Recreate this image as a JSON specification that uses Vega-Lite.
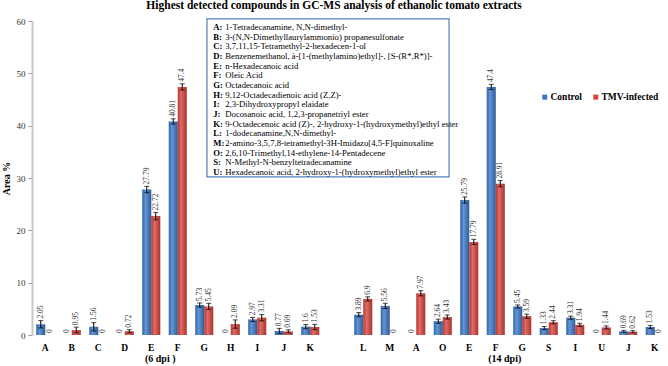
{
  "$schema": "https://vega.github.io/schema/vega-lite/v6.json",
  "width": 636,
  "height": 314,
  "autosize": {"type": "none"},
  "padding": {"left": 32, "top": 21, "right": 0, "bottom": 31},
  "background": "white",
  "title": {
    "text": "Highest detected compounds in GC-MS analysis of ethanolic tomato extracts",
    "font": "Liberation Serif",
    "fontSize": 11.5,
    "fontWeight": "bold",
    "color": "#000000",
    "anchor": "middle",
    "frame": "group",
    "offset": 6,
    "dx": -16
  },
  "config": {"view": {"stroke": null}, "font": "Liberation Serif"},
  "datasets": {
    "areas": [
      {"dpi": "6", "code": "A", "series": "Control", "value": 2.05, "err": 0.7},
      {"dpi": "6", "code": "A", "series": "TMV-infected", "value": 0, "err": 0},
      {"dpi": "6", "code": "B", "series": "Control", "value": 0, "err": 0},
      {"dpi": "6", "code": "B", "series": "TMV-infected", "value": 0.95, "err": 0.55},
      {"dpi": "6", "code": "C", "series": "Control", "value": 1.56, "err": 0.8},
      {"dpi": "6", "code": "C", "series": "TMV-infected", "value": 0, "err": 0},
      {"dpi": "6", "code": "D", "series": "Control", "value": 0, "err": 0},
      {"dpi": "6", "code": "D", "series": "TMV-infected", "value": 0.72, "err": 0.3},
      {"dpi": "6", "code": "E", "series": "Control", "value": 27.79, "err": 0.6},
      {"dpi": "6", "code": "E", "series": "TMV-infected", "value": 22.72, "err": 0.7},
      {"dpi": "6", "code": "F", "series": "Control", "value": 40.81, "err": 0.5},
      {"dpi": "6", "code": "F", "series": "TMV-infected", "value": 47.4, "err": 0.6},
      {"dpi": "6", "code": "G", "series": "Control", "value": 5.73, "err": 0.4},
      {"dpi": "6", "code": "G", "series": "TMV-infected", "value": 5.45, "err": 0.6},
      {"dpi": "6", "code": "H", "series": "Control", "value": 0, "err": 0},
      {"dpi": "6", "code": "H", "series": "TMV-infected", "value": 2.09, "err": 0.8},
      {"dpi": "6", "code": "I", "series": "Control", "value": 2.97, "err": 0.4},
      {"dpi": "6", "code": "I", "series": "TMV-infected", "value": 3.31, "err": 0.6},
      {"dpi": "6", "code": "J", "series": "Control", "value": 0.77, "err": 0.5},
      {"dpi": "6", "code": "J", "series": "TMV-infected", "value": 0.69, "err": 0.3},
      {"dpi": "6", "code": "K", "series": "Control", "value": 1.6, "err": 0.4},
      {"dpi": "6", "code": "K", "series": "TMV-infected", "value": 1.53, "err": 0.5},
      {"dpi": "14", "code": "L", "series": "Control", "value": 3.89, "err": 0.4},
      {"dpi": "14", "code": "L", "series": "TMV-infected", "value": 6.9, "err": 0.4},
      {"dpi": "14", "code": "M", "series": "Control", "value": 5.56, "err": 0.5},
      {"dpi": "14", "code": "M", "series": "TMV-infected", "value": 0, "err": 0},
      {"dpi": "14", "code": "A", "series": "Control", "value": 0, "err": 0},
      {"dpi": "14", "code": "A", "series": "TMV-infected", "value": 7.97, "err": 0.5},
      {"dpi": "14", "code": "O", "series": "Control", "value": 2.64, "err": 0.4},
      {"dpi": "14", "code": "O", "series": "TMV-infected", "value": 3.43, "err": 0.4},
      {"dpi": "14", "code": "E", "series": "Control", "value": 25.79, "err": 0.6},
      {"dpi": "14", "code": "E", "series": "TMV-infected", "value": 17.79, "err": 0.5},
      {"dpi": "14", "code": "F", "series": "Control", "value": 47.4, "err": 0.5},
      {"dpi": "14", "code": "F", "series": "TMV-infected", "value": 28.91, "err": 0.6},
      {"dpi": "14", "code": "G", "series": "Control", "value": 5.45, "err": 0.3},
      {"dpi": "14", "code": "G", "series": "TMV-infected", "value": 3.59, "err": 0.4},
      {"dpi": "14", "code": "S", "series": "Control", "value": 1.33, "err": 0.3},
      {"dpi": "14", "code": "S", "series": "TMV-infected", "value": 2.44, "err": 0.3},
      {"dpi": "14", "code": "I", "series": "Control", "value": 3.31, "err": 0.3},
      {"dpi": "14", "code": "I", "series": "TMV-infected", "value": 1.94, "err": 0.3},
      {"dpi": "14", "code": "U", "series": "Control", "value": 0, "err": 0},
      {"dpi": "14", "code": "U", "series": "TMV-infected", "value": 1.44, "err": 0.3},
      {"dpi": "14", "code": "J", "series": "Control", "value": 0.69, "err": 0.2},
      {"dpi": "14", "code": "J", "series": "TMV-infected", "value": 0.62, "err": 0.2},
      {"dpi": "14", "code": "K", "series": "Control", "value": 1.53, "err": 0.3},
      {"dpi": "14", "code": "K", "series": "TMV-infected", "value": 0, "err": 0}
    ],
    "compounds": [
      {"code": "A", "name": "1-Tetradecanamine, N,N-dimethyl-"},
      {"code": "B", "name": "3-(N,N-Dimethyllaurylammonio) propanesulfonate"},
      {"code": "C", "name": "3,7,11,15-Tetramethyl-2-hexadecen-1-ol"},
      {"code": "D", "name": "Benzenemethanol, à-[1-(methylamino)ethyl]-, [S-(R*,R*)]-"},
      {"code": "E", "name": "n-Hexadecanoic acid"},
      {"code": "F", "name": "Oleic Acid"},
      {"code": "G", "name": "Octadecanoic acid"},
      {"code": "H", "name": "9,12-Octadecadienoic acid (Z,Z)-"},
      {"code": "I", "name": "2,3-Dihydroxypropyl elaidate"},
      {"code": "J", "name": "Docosanoic acid, 1,2,3-propanetriyl ester"},
      {"code": "K", "name": "9-Octadecenoic acid (Z)-, 2-hydroxy-1-(hydroxymethyl)ethyl ester"},
      {"code": "L", "name": "1-dodecanamine,N,N-dimethyl-"},
      {"code": "M", "name": "2-amino-3,5,7,8-tetramethyl-3H-Imidazo[4,5-F]quinoxaline"},
      {"code": "O", "name": "2,6,10-Trimethyl,14-ethylene-14-Pentadecene"},
      {"code": "S", "name": "N-Methyl-N-benzyltetradecanamine"},
      {"code": "U", "name": "Hexadecanoic acid, 2-hydroxy-1-(hydroxymethyl)ethyl ester"}
    ],
    "groups": [
      {"label": "(6 dpi )", "key": "6-E"},
      {"label": "(14 dpi)", "key": "14-F"}
    ]
  },
  "layer": [
    {
      "layer": [
        {
          "data": {"name": "areas"},
          "transform": [{"calculate": "datum.dpi + '-' + datum.code", "as": "key"}],
          "mark": {"type": "bar"},
          "encoding": {
            "x": {
              "field": "key",
              "type": "nominal",
              "scale": {
                "domain": ["6-A", "6-B", "6-C", "6-D", "6-E", "6-F", "6-G", "6-H", "6-I", "6-J", "6-K", "gap",
                           "14-L", "14-M", "14-A", "14-O", "14-E", "14-F", "14-G", "14-S", "14-I", "14-U", "14-J", "14-K"],
                "paddingInner": 0.32,
                "paddingOuter": 0.16
              },
              "axis": {
                "title": null,
                "domain": false,
                "ticks": false,
                "labelAngle": 0,
                "labelPadding": 7,
                "labelFont": "Liberation Serif",
                "labelFontSize": 9.5,
                "labelFontWeight": "bold",
                "labelColor": "#000000",
                "labelExpr": "indexof(datum.value, '-') > 0 ? split(datum.value, '-')[1] : ''"
              }
            },
            "xOffset": {"field": "series", "type": "nominal", "scale": {"domain": ["Control", "TMV-infected"], "paddingInner": 0}},
            "y": {
              "field": "value",
              "type": "quantitative",
              "scale": {"domain": [0, 60], "nice": false},
              "axis": {
                "title": "Area %",
                "titleFont": "Liberation Serif",
                "titleFontSize": 10,
                "titleFontWeight": "bold",
                "titleColor": "#000000",
                "titlePadding": 5,
                "values": [0, 10, 20, 30, 40, 50, 60],
                "grid": false,
                "domainColor": "#c8c8c8",
                "domainWidth": 2,
                "tickColor": "#9a9a9a",
                "tickSize": 4,
                "labelFont": "Liberation Serif",
                "labelFontSize": 9,
                "labelColor": "#333333",
                "labelPadding": 3
              }
            },
            "color": {
              "field": "series",
              "type": "nominal",
              "scale": {"domain": ["Control", "TMV-infected"], "range": ["#3a78c8", "#d8433c"]},
              "legend": {
                "title": null,
                "orient": "none",
                "legendX": 508,
                "legendY": 71,
                "direction": "horizontal",
                "symbolType": "square",
                "symbolSize": 25,
                "symbolStrokeWidth": 0,
                "labelFont": "Liberation Serif",
                "labelFontSize": 9.5,
                "labelFontWeight": "bold",
                "labelColor": "#000000",
                "labelOffset": 1,
                "columnPadding": 9
              }
            }
          }
        },
        {
          "data": {"name": "areas"},
          "transform": [{"calculate": "datum.dpi + '-' + datum.code", "as": "key"}],
          "mark": {
            "type": "bar",
            "color": {
              "gradient": "linear",
              "x1": 0, "x2": 1, "y1": 0, "y2": 0,
              "stops": [
                {"offset": 0, "color": "rgba(0,0,0,0.12)"},
                {"offset": 0.35, "color": "rgba(255,255,255,0.22)"},
                {"offset": 1, "color": "rgba(0,0,0,0.22)"}
              ]
            }
          },
          "encoding": {
            "x": {"field": "key", "type": "nominal"},
            "xOffset": {"field": "series", "type": "nominal"},
            "y": {"field": "value", "type": "quantitative"}
          }
        },
        {
          "data": {"name": "areas"},
          "transform": [
            {"filter": "datum.err > 0"},
            {"calculate": "datum.dpi + '-' + datum.code", "as": "key"},
            {"calculate": "datum.value - datum.err", "as": "lo"},
            {"calculate": "datum.value + datum.err", "as": "hi"}
          ],
          "mark": {"type": "rule", "color": "#000000", "strokeWidth": 1},
          "encoding": {
            "x": {"field": "key", "type": "nominal"},
            "xOffset": {"field": "series", "type": "nominal"},
            "y": {"field": "lo", "type": "quantitative"},
            "y2": {"field": "hi"}
          }
        },
        {
          "data": {"name": "areas"},
          "transform": [
            {"filter": "datum.err > 0"},
            {"calculate": "datum.dpi + '-' + datum.code", "as": "key"},
            {"calculate": "datum.value - datum.err", "as": "lo"},
            {"calculate": "datum.value + datum.err", "as": "hi"},
            {"fold": ["lo", "hi"], "as": ["end", "level"]}
          ],
          "mark": {"type": "tick", "color": "#000000", "size": 5, "thickness": 1},
          "encoding": {
            "x": {"field": "key", "type": "nominal"},
            "xOffset": {"field": "series", "type": "nominal"},
            "y": {"field": "level", "type": "quantitative"}
          }
        },
        {
          "data": {"name": "areas"},
          "transform": [
            {"calculate": "datum.dpi + '-' + datum.code", "as": "key"},
            {"calculate": "datum.value + datum.err", "as": "hi"}
          ],
          "mark": {"type": "text", "angle": 270, "align": "left", "baseline": "middle", "dx": 2, "font": "Liberation Serif", "fontSize": 7.5, "color": "#333333"},
          "encoding": {
            "x": {"field": "key", "type": "nominal"},
            "xOffset": {"field": "series", "type": "nominal"},
            "y": {"field": "hi", "type": "quantitative"},
            "text": {"field": "value", "type": "nominal"}
          }
        },
        {
          "data": {"values": [{}]},
          "mark": {"type": "rect", "fill": "#ffffff", "stroke": "#4f81bd", "strokeWidth": 1.2},
          "encoding": {
            "x": {"datum": "6-G", "type": "nominal", "bandPosition": 0.65},
            "x2": {"datum": "14-O", "bandPosition": 0.85},
            "y": {"datum": 60.4, "type": "quantitative"},
            "y2": {"datum": 30.2}
          }
        },
        {
          "data": {"name": "groups"},
          "mark": {"type": "text", "align": "center", "baseline": "middle", "font": "Liberation Serif", "fontSize": 10, "fontWeight": "bold", "color": "#000000"},
          "encoding": {
            "x": {"field": "key", "type": "nominal", "bandPosition": 1},
            "y": {"datum": -4.6, "type": "quantitative"},
            "text": {"field": "label"}
          }
        }
      ]
    },
    {
      "data": {"name": "compounds"},
      "transform": [{"calculate": "datum.code + ':'", "as": "tag"}],
      "encoding": {
        "x": {"datum": "6-G", "type": "nominal", "bandPosition": 1},
        "y": {"field": "code", "type": "nominal", "sort": null, "scale": {"type": "point", "range": [6, 151], "padding": 0}, "axis": null}
      },
      "layer": [
        {
          "mark": {"type": "text", "align": "left", "baseline": "middle", "font": "Liberation Serif", "fontSize": 8.7, "fontWeight": "bold", "color": "#000000"},
          "encoding": {"text": {"field": "tag"}}
        },
        {
          "mark": {"type": "text", "align": "left", "baseline": "middle", "font": "Liberation Serif", "fontSize": 8.7, "color": "#000000", "dx": 12},
          "encoding": {"text": {"field": "name"}}
        }
      ]
    }
  ],
  "resolve": {"scale": {"y": "independent"}}
}
